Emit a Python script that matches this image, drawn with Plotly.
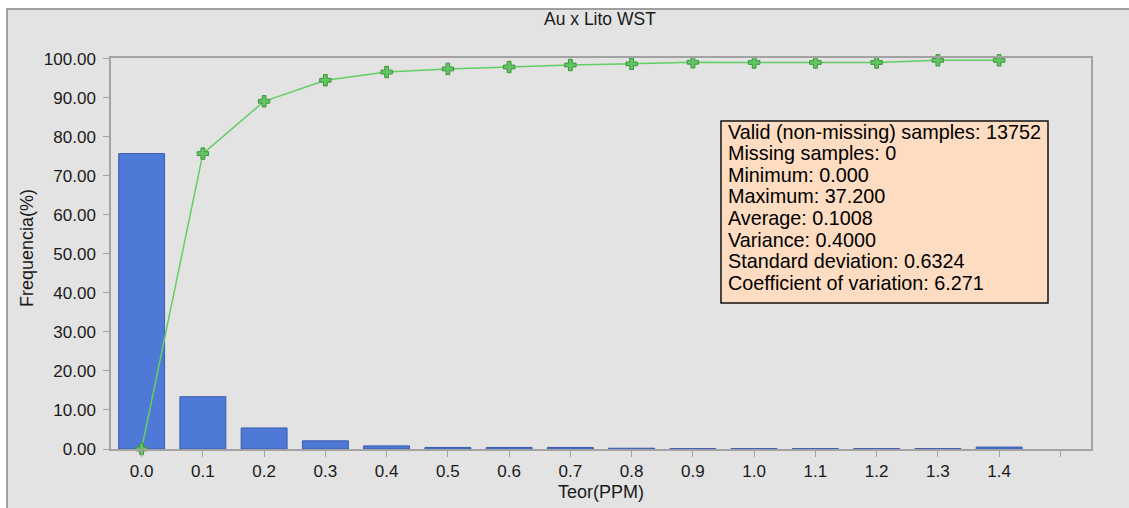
import plotly.graph_objects as go

# ---- data ----
categories = ["0.0", "0.1", "0.2", "0.3", "0.4", "0.5", "0.6", "0.7",
              "0.8", "0.9", "1.0", "1.1", "1.2", "1.3", "1.4"]
freq_pct = [75.7, 13.4, 5.4, 2.1, 0.8, 0.4, 0.4, 0.4,
            0.2, 0.1, 0.1, 0.1, 0.1, 0.1, 0.5]
cum_pct = [0.0, 75.7, 89.1, 94.5, 96.6, 97.4, 97.9, 98.4,
           98.7, 99.1, 99.05, 99.05, 99.05, 99.6, 99.6]
y_ticks = [0, 10, 20, 30, 40, 50, 60, 70, 80, 90, 100]
stats_lines = [
    "Valid (non-missing) samples: 13752",
    "Missing samples: 0",
    "Minimum: 0.000",
    "Maximum: 37.200",
    "Average: 0.1008",
    "Variance: 0.4000",
    "Standard deviation: 0.6324",
    "Coefficient of variation: 6.271",
]
title_text = "Au x Lito WST"
x_title = "Teor(PPM)"
y_title = "Frequencia(%)"

# ---- layout geometry (pixels) ----
W, H = 1129, 508
L, R, T, B = 111, 38, 58, 59
PW, PH = W - L - R, H - T - B


def px_x(x):
    return (x - L) / PW


def px_y(y):
    return (H - B - y) / PH


FONT = "Liberation Sans, Arial, sans-serif"
TXT = "#1a1a1a"
GRID_GRAY = "#a3a3a3"

xpos = list(range(len(categories)))
tickvals = list(range(len(categories) + 1))
ticktext = categories + [""]

fig = go.Figure()
fig.add_trace(go.Bar(
    x=xpos, y=freq_pct, width=0.75,
    marker=dict(color="#4f79d6", line=dict(color="#3b5cb2", width=1)),
    hoverinfo="skip", showlegend=False,
))
fig.add_trace(go.Scatter(
    x=xpos, y=cum_pct, mode="lines+markers",
    line=dict(color="#62cf62", width=1.5),
    marker=dict(symbol="cross", size=9.5, color="#62c462",
                line=dict(color="#3c963c", width=1)),
    cliponaxis=False, hoverinfo="skip", showlegend=False,
))

shapes = [
    # outer gray frame
    dict(type="rect", xref="paper", yref="paper", layer="below",
         x0=px_x(7), x1=px_x(W + 10), y0=px_y(H + 10), y1=px_y(9),
         fillcolor="#e3e3e3", line=dict(color="#a0a0a0", width=2)),
    # stats box
    dict(type="rect", xref="paper", yref="paper", layer="above",
         x0=px_x(721), x1=px_x(1048), y0=px_y(303), y1=px_y(121),
         fillcolor="#fddcc1", line=dict(color="#111111", width=1.5)),
]

annotations = [
    dict(text=title_text, xref="paper", yref="paper", x=px_x(600), y=px_y(19),
         xanchor="center", yanchor="middle", showarrow=False,
         font=dict(family=FONT, size=17.5, color=TXT)),
    dict(text=x_title, xref="paper", yref="paper", x=px_x(601), y=px_y(492),
         xanchor="center", yanchor="middle", showarrow=False,
         font=dict(family=FONT, size=18, color=TXT)),
    dict(text=y_title, xref="paper", yref="paper", x=px_x(27), y=px_y(248),
         xanchor="center", yanchor="middle", showarrow=False, textangle=-90,
         font=dict(family=FONT, size=18, color=TXT)),
]
line_h = 21.6
for i, s in enumerate(stats_lines):
    annotations.append(dict(
        text=s, xref="paper", yref="paper", x=px_x(726), y=px_y(131.5 + i * line_h),
        xanchor="left", yanchor="middle", showarrow=False,
        font=dict(family=FONT, size=19.8, color="#000000")))

fig.update_layout(
    width=W, height=H,
    margin=dict(l=L, r=R, t=T, b=B, pad=0),
    paper_bgcolor="white", plot_bgcolor="white",
    font=dict(family=FONT, size=16, color=TXT),
    bargap=0.25,
    shapes=shapes, annotations=annotations,
    xaxis=dict(
        range=[-0.5, 15.5], tickmode="array", tickvals=tickvals, ticktext=ticktext,
        showgrid=False, zeroline=False, showline=True, mirror=True,
        linecolor=GRID_GRAY, linewidth=1.5,
        ticks="outside", ticklen=6, tickcolor=GRID_GRAY, tickwidth=1,
        tickfont=dict(family=FONT, size=17, color=TXT),
    ),
    yaxis=dict(
        range=[0, 100.2], tickmode="array", tickvals=y_ticks, tickformat=".2f",
        showgrid=False, zeroline=False, showline=True, mirror=True,
        linecolor=GRID_GRAY, linewidth=1.5,
        ticks="outside", ticklen=6, tickcolor=GRID_GRAY, tickwidth=1,
        ticklabelstandoff=4,
        tickfont=dict(family=FONT, size=17, color=TXT),
    ),
)

fig.write_html("out.html")
